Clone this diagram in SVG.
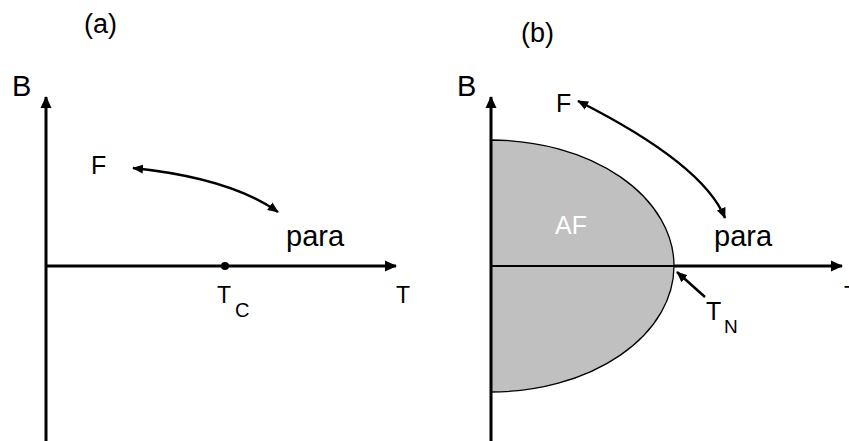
<svg xmlns="http://www.w3.org/2000/svg" width="849" height="441" viewBox="0 0 849 441">
<defs>
<marker id="ah" viewBox="0 0 12 12" refX="11" refY="6" markerWidth="12" markerHeight="12" markerUnits="userSpaceOnUse" orient="auto-start-reverse">
<path d="M0,0.5 L12,6 L0,11.5 Z" fill="#000"/>
</marker>
<marker id="ahs" viewBox="0 0 12 12" refX="11" refY="6" markerWidth="11" markerHeight="11" markerUnits="userSpaceOnUse" orient="auto-start-reverse">
<path d="M0,1 L12,6 L0,11 Z" fill="#000"/>
</marker>
</defs>
<style>
text{font-family:"Liberation Sans",Arial,sans-serif;fill:#000}
.axis{stroke:#000;stroke-width:3;fill:none}
.conn{stroke:#000;stroke-width:2.5;fill:none}
</style>
<rect width="849" height="441" fill="#fff"/>
<g id="panel-a">
<text x="84" y="33" font-size="27">(a)</text>
<text x="12" y="96" font-size="29">B</text>
<text x="91" y="174" font-size="25">F</text>
<text x="286" y="246" font-size="29">para</text>
<g id="Tc"><text x="217" y="303" font-size="23">T</text><text x="235" y="317" font-size="20">C</text></g>
<text x="396" y="303" font-size="23">T</text>
</g>
<g id="panel-b">
<text x="521" y="42" font-size="27">(b)</text>
<path id="AF-region" d="M491,140 A183,126 0 0 1 491,392 Z" fill="#c0c0c0" stroke="#000" stroke-width="1.3"/>
<text x="555" y="234" font-size="25" style="fill:#fff">AF</text>
<text x="457" y="96" font-size="29">B</text>
<text x="556" y="112" font-size="25">F</text>
<text x="714" y="246" font-size="29">para</text>
<g id="Tn"><text x="706" y="320" font-size="25">T</text><text x="724" y="333" font-size="19">N</text></g>
<text x="844" y="303" font-size="23">T</text>
</g>
<g id="connectors">
<line class="axis" x1="46" y1="441" x2="46" y2="97" marker-end="url(#ah)"/>
<line class="axis" x1="46" y1="266" x2="396" y2="266" marker-end="url(#ah)"/>
<circle cx="225" cy="266" r="4" fill="#000"/>
<path class="conn" d="M133,168 Q230,178 278,212" marker-start="url(#ahs)" marker-end="url(#ahs)"/>
<line class="axis" x1="491" y1="441" x2="491" y2="97" marker-end="url(#ah)"/>
<line x1="491" y1="266" x2="675" y2="266" stroke="#000" stroke-width="2"/>
<line class="axis" x1="674" y1="266" x2="842" y2="266" marker-end="url(#ah)"/>
<path class="conn" d="M578,101 Q703,164 725,218" marker-start="url(#ahs)" marker-end="url(#ahs)"/>
<line class="conn" x1="705" y1="297" x2="677" y2="272" marker-end="url(#ahs)"/>
</g>
</svg>
